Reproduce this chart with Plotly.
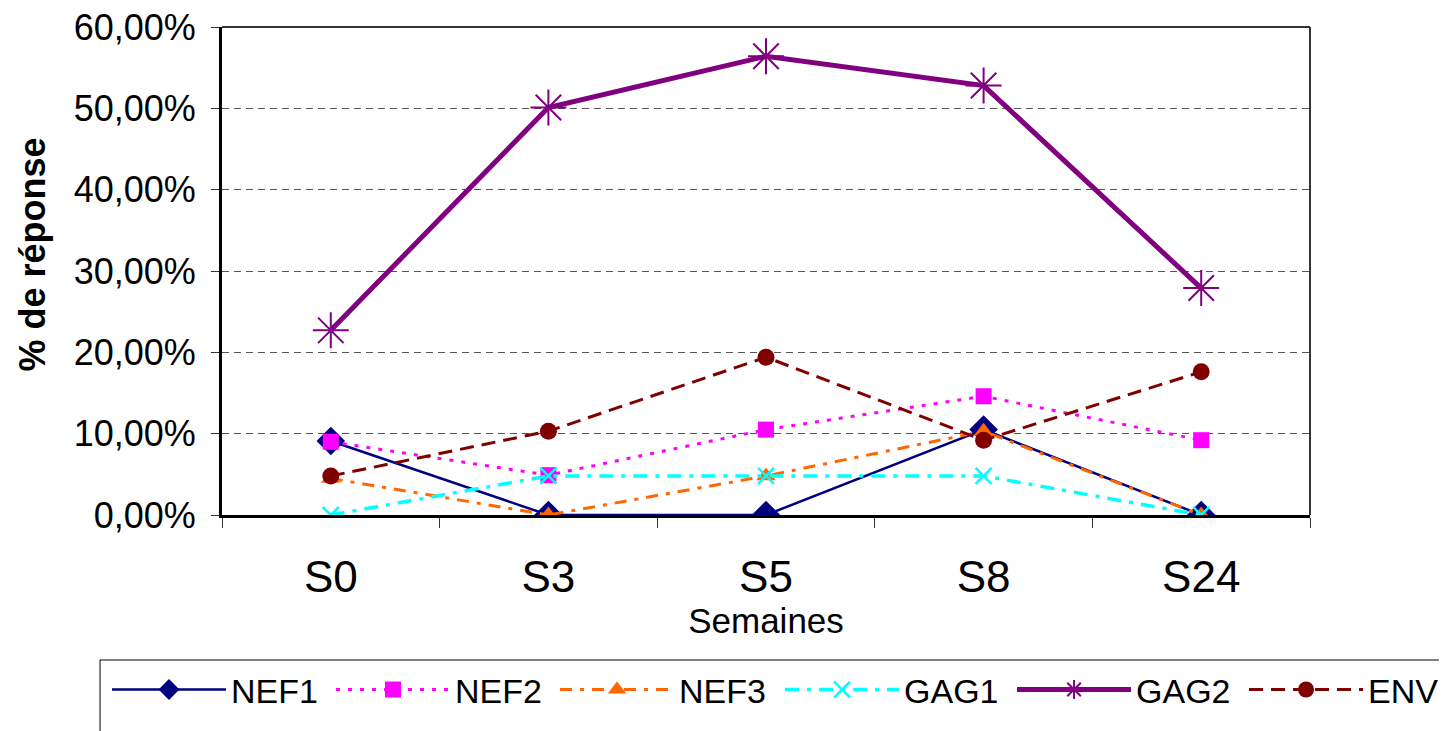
import plotly.graph_objects as go

categories = ["S0", "S3", "S5", "S8", "S24"]
nef1 = [0.091, 0.0, 0.0, 0.105, 0.0]
nef2 = [0.090, 0.049, 0.105, 0.146, 0.092]
nef3 = [0.045, 0.0, 0.048, 0.103, 0.0]
gag1 = [0.0, 0.048, 0.048, 0.048, 0.0]
gag2 = [0.227, 0.501, 0.564, 0.528, 0.279]
env = [0.048, 0.103, 0.194, 0.092, 0.176]
y_ticks = [0, 0.1, 0.2, 0.3, 0.4, 0.5, 0.6]

FONT = "Liberation Sans, Arial, sans-serif"

series = [
    ("NEF1", nef1, dict(color="#000080", width=2.5, dash="solid"),
     dict(symbol="diamond", size=22, color="#000080"), "legend"),
    ("NEF2", nef2, dict(color="#FF00FF", width=3, dash="4px,8px"),
     dict(symbol="square", size=16, color="#FF00FF"), "legend"),
    ("NEF3", nef3, dict(color="#FF6600", width=3, dash="12px,8px,4px,8px"),
     dict(symbol="triangle-up", size=17, color="#FF6600"), "legend"),
    ("GAG1", gag1, dict(color="#00FFFF", width=3.5, dash="14px,8px,4px,8px"),
     dict(symbol="x-thin", size=16, color="#00FFFF", line=dict(color="#00FFFF", width=2.5)), "legend2"),
    ("GAG2", gag2, dict(color="#800080", width=5, dash="solid"),
     dict(symbol="asterisk-open", size=30, color="#800080", line=dict(color="#800080", width=2)), "legend2"),
    ("ENV", env, dict(color="#800000", width=3, dash="14px,8px"),
     dict(symbol="circle", size=17, color="#800000"), "legend2"),
]

fig = go.Figure()
for name, vals, line, marker, lg in series:
    fig.add_trace(go.Scatter(x=categories, y=vals, name=name, mode="lines+markers",
                             line=line, marker=marker, legend=lg))

legend_common = dict(orientation="h", xanchor="left", yanchor="top",
                     borderwidth=0, bgcolor="rgba(0,0,0,0)",
                     font=dict(family=FONT, size=34, color="black"),
                     itemwidth=114, entrywidthmode="pixels",
                     tracegroupgap=0)

fig.update_layout(
    width=1447, height=731,
    margin=dict(l=214, r=145, t=19, b=224, autoexpand=False),
    paper_bgcolor="white", plot_bgcolor="white",
    separators=", ",
    font=dict(family=FONT, color="black"),
    showlegend=True,
    legend=dict(x=-0.1057, y=-0.299, entrywidth=95, **legend_common),
    legend2=dict(x=0.5129, y=-0.299, entrywidth=103, **legend_common),
    xaxis=dict(type="category", range=[-0.5, 4.5], showgrid=False,
               showline=True, linecolor="black", linewidth=3,
               ticks="outside", tickson="boundaries", ticklen=10, tickcolor="#333",
               tickfont=dict(family=FONT, size=44), ticklabelstandoff=21,
               title=dict(text="Semaines", font=dict(family=FONT, size=35), standoff=9)),
    yaxis=dict(range=[0, 0.6], tickvals=y_ticks, tickformat=".2%",
               showgrid=True, gridcolor="#555", griddash="7px,5px", gridwidth=1,
               showline=True, linecolor="black", linewidth=3,
               ticks="outside", ticklen=8, tickcolor="#333",
               tickfont=dict(family=FONT, size=36), ticklabelstandoff=8,
               ticklabeloverflow="allow", zeroline=False),
    shapes=[dict(type="line", xref="paper", yref="paper", x0=0, x1=1, y0=1, y1=1,
                 line=dict(color="#333", width=2)),
            dict(type="line", xref="paper", yref="paper", x0=1, x1=1, y0=0, y1=1,
                 line=dict(color="#333", width=2)),
            dict(type="rect", xref="paper", yref="paper", x0=-0.1121, x1=1.1222,
                 y0=-0.2971, y1=-0.5, line=dict(color="black", width=1),
                 fillcolor="rgba(0,0,0,0)", layer="below")],
    annotations=[dict(text="<b>% de réponse</b>", textangle=-90, xref="paper", yref="paper",
                      x=-0.174, y=0.533, xanchor="center", yanchor="middle", showarrow=False,
                      font=dict(family=FONT, size=36, color="black"))],
)

fig.write_html("out.html")
